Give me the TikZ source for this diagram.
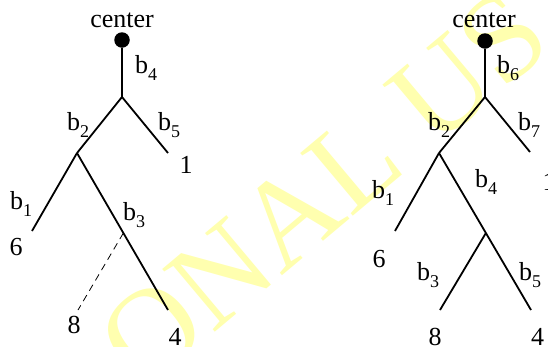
\documentclass[tikz,border=0pt]{standalone}
\usepackage{fontspec}
\setmainfont{Liberation Serif}
\usetikzlibrary{calc}
\definecolor{wmark}{RGB}{255,255,175}
\newcommand\bl[1]{b\raisebox{-7pt}{\fontsize{18}{18}\selectfont #1}}
\tikzset{
  branch/.style={line width=1.8pt},
  dashbranch/.style={line width=0.8pt, dash pattern=on 7pt off 5pt},
  dot/.style={circle, fill=black, inner sep=0pt, minimum size=15.5pt},
  lab/.style={inner sep=0pt, font=\fontsize{26}{30}\selectfont},
  wm/.style={inner sep=0pt, text=wmark, font=\fontsize{125}{130}\selectfont, rotate=40, anchor=base west}
}
\begin{document}
\begin{tikzpicture}[x=1pt, y=-1pt]
\useasboundingbox (0,0) rectangle (548,346);
\clip (0,0) rectangle (548,346);
\fill[white] (0,0) rectangle (548,346);
% watermark
\node[wm] (wmk) at (143,393) {ONAL US};
% ---------- left tree ----------
\node[dot] (c1) at (122,40) {};
\node[lab, anchor=base] (cen1) at (122,27) {center};
\coordinate (L1) at (122,97);
\coordinate (L2) at (77,153);
\coordinate (L5) at (168,153);
\coordinate (L6) at (32,231);
\coordinate (L4) at (168,310);
\coordinate (L3) at ($(L2)!0.5096!(L4)$);
\coordinate (L8) at (78,310);
\draw[branch] (c1) -- (L1);
\draw[branch] (L1) -- (L5);
\draw[branch] (L1) -- (L2);
\draw[branch] (L2) -- (L6);
\draw[branch] (L2) -- (L4);
\draw[dashbranch] (L3) -- (L8);
\node[lab, anchor=base west] (lb4) at (135,73) {\bl{4}};
\node[lab, anchor=base west] (lb2) at (67,130) {\bl{2}};
\node[lab, anchor=base west] (lb5) at (158,130) {\bl{5}};
\node[lab, anchor=base west] (lb1) at (10,209) {\bl{1}};
\node[lab, anchor=base west] (lb3) at (123,220) {\bl{3}};
\node[lab, anchor=base] (ln1) at (186,173) {1};
\node[lab, anchor=base] (ln6) at (16,255) {6};
\node[lab, anchor=base] (ln8) at (74,333) {8};
\node[lab, anchor=base] (ln4) at (175,345) {4};
% ---------- right tree ----------
\node[dot] (c2) at (485,41) {};
\node[lab, anchor=base] (cen2) at (484,27) {center};
\coordinate (R1) at (485,97);
\coordinate (R2) at (439,153);
\coordinate (R7) at (530,152);
\coordinate (R6) at (395,231);
\coordinate (R4) at (531,310);
\coordinate (R3) at ($(R2)!0.5096!(R4)$);
\coordinate (R8) at (440,310);
\draw[branch] (c2) -- (R1);
\draw[branch] (R1) -- (R7);
\draw[branch] (R1) -- (R2);
\draw[branch] (R2) -- (R6);
\draw[branch] (R2) -- (R4);
\draw[branch] (R3) -- (R8);
\node[lab, anchor=base west] (rb6) at (497,73) {\bl{6}};
\node[lab, anchor=base west] (rb2) at (428,130) {\bl{2}};
\node[lab, anchor=base west] (rb7) at (518,130) {\bl{7}};
\node[lab, anchor=base west] (rb1) at (372,198) {\bl{1}};
\node[lab, anchor=base west] (rb4) at (475,187) {\bl{4}};
\node[lab, anchor=base west] (rb3) at (417,280) {\bl{3}};
\node[lab, anchor=base west] (rb5) at (519,280) {\bl{5}};
\node[lab, anchor=base] (rn1) at (549,190) {1};
\node[lab, anchor=base] (rn6) at (379,267) {6};
\node[lab, anchor=base] (rn8) at (435,345) {8};
\node[lab, anchor=base] (rn4) at (537.5,345) {4};
\end{tikzpicture}
\end{document}
